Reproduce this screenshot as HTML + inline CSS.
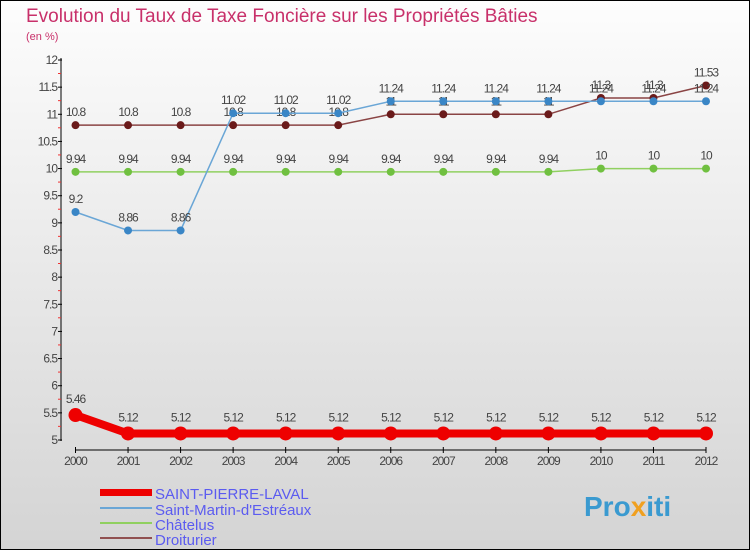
<!DOCTYPE html>
<html><head><meta charset="utf-8"><style>
body{margin:0;width:750px;height:550px;overflow:hidden;font-family:"Liberation Sans","DejaVu Sans",sans-serif}
#wrap{position:absolute;left:0;top:0;width:748px;height:548px;border:1px solid #000;background:linear-gradient(#fdfdfd,#d4d4d4)}
</style></head><body>
<div id="wrap">
<svg id="chart" width="750" height="550" style="position:absolute;left:-1px;top:-1px">
<text x="26" y="22" font-size="19" fill="#c8306a">Evolution du Taux de Taxe Foncière sur les Propriétés Bâties</text>
<text x="26" y="40" font-size="11" fill="#c8306a">(en %)</text>
<g id="axes"></g><g id="series"></g>
<g>
<rect x="100" y="489" width="52" height="7" fill="#e00"/>
<text x="155" y="499" font-size="15" fill="#5b5bf0">SAINT-PIERRE-LAVAL</text>
<rect x="100" y="507" width="52" height="2" fill="#6aa6d6"/>
<text x="155" y="515" font-size="15" fill="#5b5bf0">Saint-Martin-d'Estréaux</text>
<rect x="100" y="522" width="52" height="2" fill="#90d060"/>
<text x="155" y="530" font-size="15" fill="#5b5bf0">Châtelus</text>
<rect x="100" y="537" width="52" height="2" fill="#905050"/>
<text x="155" y="545" font-size="15" fill="#5b5bf0">Droiturier</text>
</g>
<text x="584" y="516" font-size="28" font-weight="bold" fill="#3a9ad0">Pro<tspan fill="#f0a020">x</tspan>iti</text>
</svg>
</div>
<script>
const years=[2000,2001,2002,2003,2004,2005,2006,2007,2008,2009,2010,2011,2012];
const saintPierre=[5.46,5.12,5.12,5.12,5.12,5.12,5.12,5.12,5.12,5.12,5.12,5.12,5.12];
const saintMartin=[9.2,8.86,8.86,11.02,11.02,11.02,11.24,11.24,11.24,11.24,11.24,11.24,11.24];
const chatelus=[9.94,9.94,9.94,9.94,9.94,9.94,9.94,9.94,9.94,9.94,10,10,10];
const droiturier=[10.8,10.8,10.8,10.8,10.8,10.8,11,11,11,11,11.3,11.3,11.53];
const yTicks=[5,5.5,6,6.5,7,7.5,8,8.5,9,9.5,10,10.5,11,11.5,12];
const NS="http://www.w3.org/2000/svg";
function xs(i){return 75.5+(706-75.5)*i/(years.length-1);}
function ys(v){return 440-(v-5)*(380/7);}
function mk(t,a,p){const e=document.createElementNS(NS,t);for(const k in a)e.setAttribute(k,a[k]);p.appendChild(e);return e;}
const ax=document.getElementById('axes');
const yl=mk('line',{x1:61,y1:58,x2:61,y2:441,stroke:'#000'},ax);


yTicks.forEach(v=>{const y=ys(v);
 mk('line',{x1:58,y1:y,x2:62,y2:y,stroke:'#000'},ax);
 if(v>5)mk('line',{x1:58,y1:y+13.5,x2:61,y2:y+13.5,stroke:'#e33'},ax);
 const t=mk('text',{x:57,y:y+4,'font-size':12,'text-anchor':'end',fill:'#444','letter-spacing':'-1'},ax);t.textContent=String(v);
 
 });
const xl=mk('line',{x1:75,y1:450,x2:706,y2:450,stroke:'#000'},ax);


years.forEach((yr,i)=>{const x=xs(i);
 mk('line',{x1:x,y1:447,x2:x,y2:453,stroke:'#000'},ax);
 const t=mk('text',{x:x,y:465,'font-size':12,'text-anchor':'middle',fill:'#444','letter-spacing':'-1'},ax);t.textContent=yr;
 
 });
const sg=document.getElementById('series');
function draw(vals,color,dot,w,r,name){
 const g=mk('g',{},sg);
 
 
 const pl=mk('polyline',{points:vals.map((v,i)=>xs(i)+','+ys(v)).join(' '),fill:'none',stroke:color,'stroke-width':w},g);
 
 
 vals.forEach((v,i)=>{
  const c=mk('circle',{cx:xs(i),cy:ys(v),r:r,fill:dot},g);
  
  
  const t=mk('text',{x:xs(i),y:ys(v)-(r+5),'font-size':12,'text-anchor':'middle',fill:'#444','letter-spacing':'-1'},g);
  t.textContent=String(v);
  
  });
}
draw(droiturier,'#8a4444','#6a1a1a',1.5,4,'droiturier');
draw(chatelus,'#90d060','#70c040',1.5,4,'chatelus');
draw(saintMartin,'#6aa6d6','#3a86c6',1.5,4,'saint-martin');
draw(saintPierre,'#e00','#e00',8,7,'saint-pierre-laval');
</script>
</body></html>
